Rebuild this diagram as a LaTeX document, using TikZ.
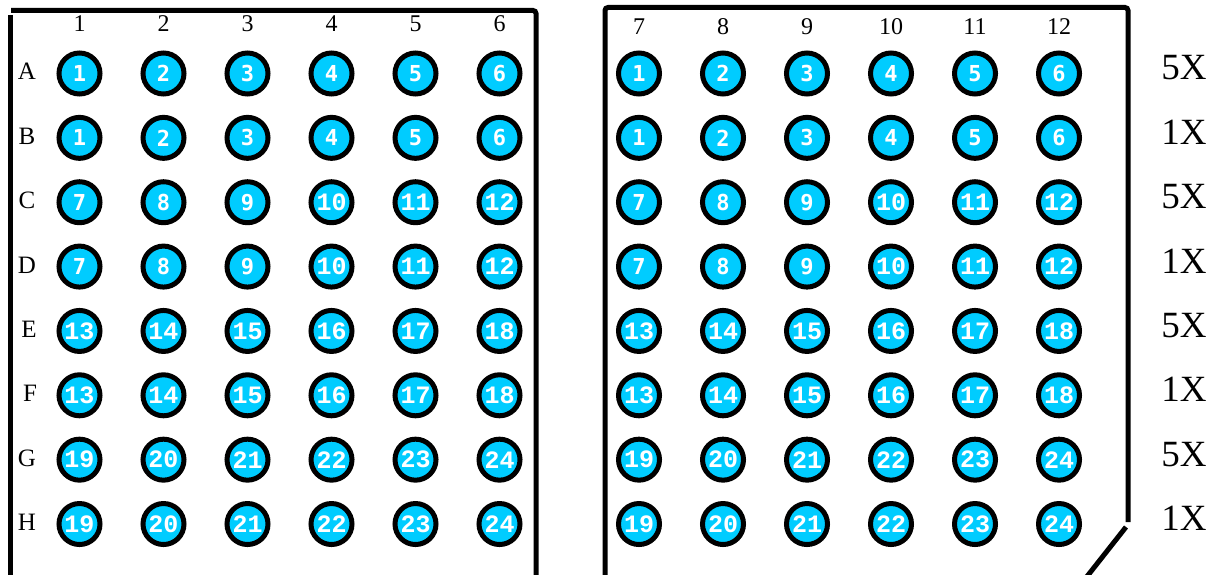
\documentclass[tikz,border=0pt]{standalone}
\usepackage{fontspec}
\setmainfont{Liberation Serif}
\newfontfamily\monoA{DejaVu Sans Mono}
\newfontfamily\monoB{Liberation Mono}
\definecolor{wellcyan}{RGB}{0,204,255}
\begin{document}
\begin{tikzpicture}[x=1pt,y=-1pt,
  well/.style={circle, draw=black, line width=5pt, fill=wellcyan, minimum size=41pt, inner sep=0pt, text=white},
  boxline/.style={draw=black, line width=5pt},
  colhead/.style={anchor=base, font=\fontsize{24}{24}\selectfont},
  rowhead/.style={anchor=base, font=\fontsize{25}{25}\selectfont},
  dilut/.style={anchor=base, font=\fontsize{37}{37}\selectfont}]
\useasboundingbox (0,0) rectangle (1223,575);
% plate outlines
\draw[boxline, rounded corners=3pt] (11,10.5) -- (536,10.5) -- (536,585);
\draw[boxline] (10.5,15) -- (10.5,585);
\draw[boxline, rounded corners=3pt] (605,585) -- (605,7.5) -- (1128,7.5) -- (1128,522);
\draw[boxline] (1126,527) -- (1085,579);
% column headers
\foreach \c in {0,...,5}{
  \pgfmathtruncatemacro\lc{\c+1}
  \pgfmathtruncatemacro\rc{\c+7}
  \node[colhead] (hl\c) at (79.5+84*\c,32) {\lc};
  \node[colhead] (hr\c) at (639+84*\c,35) {\rc};
}
% row letters and dilution labels
\foreach \l/\r/\xx/\d in {A/0/27/5X,B/1/27/1X,C/2/27/5X,D/3/27/1X,E/4/29/5X,F/5/30/1X,G/6/27/5X,H/7/27/1X}{
  \node[rowhead] (rl\r) at (\xx,73.5+64.36*\r+6.5) {\l};
  \node[dilut] (dl\r) at (1184,73.5+64.36*\r+6.5) {\d};
}
% wells
\foreach \r in {0,...,7}{
  \foreach \c in {0,...,5}{
    \pgfmathtruncatemacro\n{int(\r/2)*6+\c+1}
    \node[well] (L\r\c) at (79.5+84*\c,73.5+64.36*\r)
      {\ifnum\n<10 \monoA\bfseries\fontsize{22}{22}\selectfont\n\else\monoB\bfseries\fontsize{25}{25}\selectfont\n\fi};
    \node[well] (R\r\c) at (639+84*\c,73.5+64.36*\r)
      {\ifnum\n<10 \monoA\bfseries\fontsize{22}{22}\selectfont\n\else\monoB\bfseries\fontsize{25}{25}\selectfont\n\fi};
  }
}
\end{tikzpicture}
\end{document}
